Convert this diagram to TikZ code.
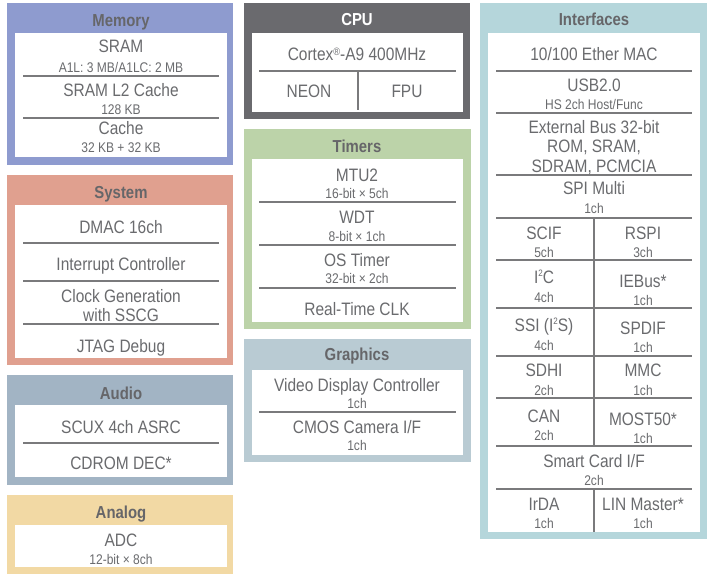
\documentclass[tikz,border=0pt]{standalone}
\usepackage{fontspec}
\setmainfont[FakeStretch=0.86]{Liberation Sans}
\usetikzlibrary{positioning}
\definecolor{memcol}{HTML}{8E9BCF}
\definecolor{cpucol}{HTML}{6A6A6E}
\definecolor{ifcol}{HTML}{B5D6DB}
\definecolor{syscol}{HTML}{E0A08F}
\definecolor{audcol}{HTML}{A2B4C4}
\definecolor{anacol}{HTML}{F2D9A4}
\definecolor{timcol}{HTML}{BCD3A9}
\definecolor{gfxcol}{HTML}{B9CBD3}
\definecolor{titlegray}{HTML}{666669}
\definecolor{itemgray}{HTML}{6A6B6E}
\definecolor{linegray}{HTML}{7A7A7C}

\begin{document}
\begin{tikzpicture}[x=0.75pt,y=-0.75pt]
        \tikzstyle{title}=[anchor=base, inner sep=0pt, text=titlegray, font=\fontsize{13}{15}\selectfont\bfseries]
        \tikzstyle{item}=[anchor=base, inner sep=0pt, text=itemgray, font=\fontsize{13.5}{14.25}\selectfont, align=center]
        \tikzstyle{sub}=[anchor=base, inner sep=0pt, text=itemgray, font=\fontsize{10.5}{12}\selectfont]
        \tikzstyle{sep}=[draw=linegray, line width=0.9pt]
        \tikzstyle{inner}=[fill=white]
        \useasboundingbox (0,0) rectangle (710,574);
        % panels
        \fill [memcol] (7,3) rectangle (233,165);
        \fill [cpucol] (244,3) rectangle (470,119);
        \fill [ifcol] (480,3) rectangle (707,539);
        \fill [syscol] (7,175) rectangle (233,365);
        \fill [audcol] (7,375) rectangle (233,485);
        \fill [anacol] (7,495) rectangle (233,574);
        \fill [timcol] (244,129) rectangle (471,329);
        \fill [gfxcol] (244,339) rectangle (471,462);
        \fill [inner] (15,33) rectangle (227,157);
        \fill [inner] (252,33) rectangle (463,112);
        \fill [inner] (488,33) rectangle (700,532);
        \fill [inner] (15,205) rectangle (227,358);
        \fill [inner] (15,405) rectangle (227,477);
        \fill [inner] (15,525) rectangle (227,567);
        \fill [inner] (252,159) rectangle (463,322);
        \fill [inner] (252,370) rectangle (463,455);
        % Memory
        \begin{scope}
          \node [title] (memt) at (121,27) {Memory};
          \node [item] (sram) at (121,53) {SRAM};
          \node [sub] (sramsz) at (121,73) {A1L: 3 MB/A1LC: 2 MB};
          \node [item] (l2) at (121,97) {SRAM L2 Cache};
          \node [sub] (l2sz) at (121,115) {128 KB};
          \node [item] (cache) at (121,135) {Cache};
          \node [sub] (cachesz) at (121,153) {32 KB + 32 KB};
          \draw [sep] (23,76) -- (219,76);
          \draw [sep] (23,118) -- (219,118);
        \end{scope}
        % CPU
        \begin{scope}
          \node [title, text=white] (cput) at (357,26) {CPU};
          \node [item] (cortex) at (357,61) {Cortex{\fontsize{8}{8}\selectfont\raisebox{0.55em}{\textregistered}}-A9 400MHz};
          \node [item] (neon) at (309,98) {NEON};
          \node [item] (fpu) at (407,98) {FPU};
          \draw [sep] (259,71) -- (456,71);
          \draw [sep] (358,71) -- (358,110);
        \end{scope}
        % Interfaces
        \begin{scope}
          \node [title] (ift) at (594,26) {Interfaces};
          \node [item] (ether) at (594,61) {10/100 Ether MAC};
          \node [item] (usb) at (594,92) {USB2.0};
          \node [sub] (usbch) at (594,110) {HS 2ch Host/Func};
          \node [item] (extbus) at (594,172) {External Bus 32-bit\\ROM, SRAM,\\SDRAM, PCMCIA};
          \node [item] (spi) at (594,195) {SPI Multi};
          \node [sub] (spich) at (594,213) {1ch};
          \node [item] (scif) at (544,239) {SCIF};
          \node [sub] (scifch) at (544,257) {5ch};
          \node [item] (rspi) at (643,239) {RSPI};
          \node [sub] (rspich) at (643,257) {3ch};
          \node [item] (iic) at (544,283) {I{\fontsize{7}{7}\selectfont\raisebox{0.7em}{2}}C};
          \node [sub] (iicch) at (544,302) {4ch};
          \node [item] (iebus) at (643,287) {IEBus*};
          \node [sub] (iebusch) at (643,305) {1ch};
          \node [item] (ssi) at (544,331) {SSI (I{\fontsize{7}{7}\selectfont\raisebox{0.7em}{2}}S)};
          \node [sub] (ssich) at (544,350) {4ch};
          \node [item] (spdif) at (643,334) {SPDIF};
          \node [sub] (spdifch) at (643,352) {1ch};
          \node [item] (sdhi) at (544,376) {SDHI};
          \node [sub] (sdhich) at (544,395) {2ch};
          \node [item] (mmc) at (643,376) {MMC};
          \node [sub] (mmcch) at (643,395) {1ch};
          \node [item] (can) at (544,422) {CAN};
          \node [sub] (canch) at (544,440) {2ch};
          \node [item] (most) at (643,425) {MOST50*};
          \node [sub] (mostch) at (643,443) {1ch};
          \node [item] (smart) at (594,467) {Smart Card I/F};
          \node [sub] (smartch) at (594,485) {2ch};
          \node [item] (irda) at (544,510) {IrDA};
          \node [sub] (irdach) at (544,528) {1ch};
          \node [item] (lin) at (643,510) {LIN Master*};
          \node [sub] (linch) at (643,528) {1ch};
          \foreach \y in {71,113,175,218,260,308,356,398,446,489}
            \draw [sep] (496,\y) -- (692,\y);
          \draw [sep] (594,218) -- (594,446);
          \draw [sep] (594,489) -- (594,532);
        \end{scope}
        % System
        \begin{scope}
          \node [title] (syst) at (121,199) {System};
          \node [item] (dmac) at (121,233) {DMAC 16ch};
          \node [item] (intc) at (121,270) {Interrupt Controller};
          \node [item] (clk) at (121,321) {Clock Generation\\with SSCG};
          \node [item] (jtag) at (121,352) {JTAG Debug};
          \draw [sep] (23,243) -- (219,243);
          \draw [sep] (23,281) -- (219,281);
          \draw [sep] (23,324) -- (219,324);
        \end{scope}
        % Audio
        \begin{scope}
          \node [title] (audt) at (121,399) {Audio};
          \node [item] (scux) at (121,433) {SCUX 4ch ASRC};
          \node [item] (cdrom) at (121,469) {CDROM DEC*};
          \draw [sep] (23,443) -- (219,443);
        \end{scope}
        % Analog
        \begin{scope}
          \node [title] (anat) at (121,518) {Analog};
          \node [item] (adc) at (121,546) {ADC};
          \node [sub] (adcbits) at (121,564) {12-bit × 8ch};
        \end{scope}
        % Timers
        \begin{scope}
          \node [title] (timt) at (357,153) {Timers};
          \node [item] (mtu) at (357,181) {MTU2};
          \node [sub] (mtubits) at (357,199) {16-bit × 5ch};
          \node [item] (wdt) at (357,223) {WDT};
          \node [sub] (wdtbits) at (357,241) {8-bit × 1ch};
          \node [item] (ostm) at (357,266) {OS Timer};
          \node [sub] (ostmbits) at (357,283) {32-bit × 2ch};
          \node [item] (rtc) at (357,315) {Real-Time CLK};
          \draw [sep] (259,202) -- (456,202);
          \draw [sep] (259,245) -- (456,245);
          \draw [sep] (259,288) -- (456,288);
        \end{scope}
        % Graphics
        \begin{scope}
          \node [title] (gfxt) at (357,360) {Graphics};
          \node [item] (vdc) at (357,391) {Video Display Controller};
          \node [sub] (vdcch) at (357,408) {1ch};
          \node [item] (ceu) at (357,433) {CMOS Camera I/F};
          \node [sub] (ceuch) at (357,450) {1ch};
          \draw [sep] (259,412) -- (456,412);
        \end{scope}
      \end{tikzpicture}
\end{document}
